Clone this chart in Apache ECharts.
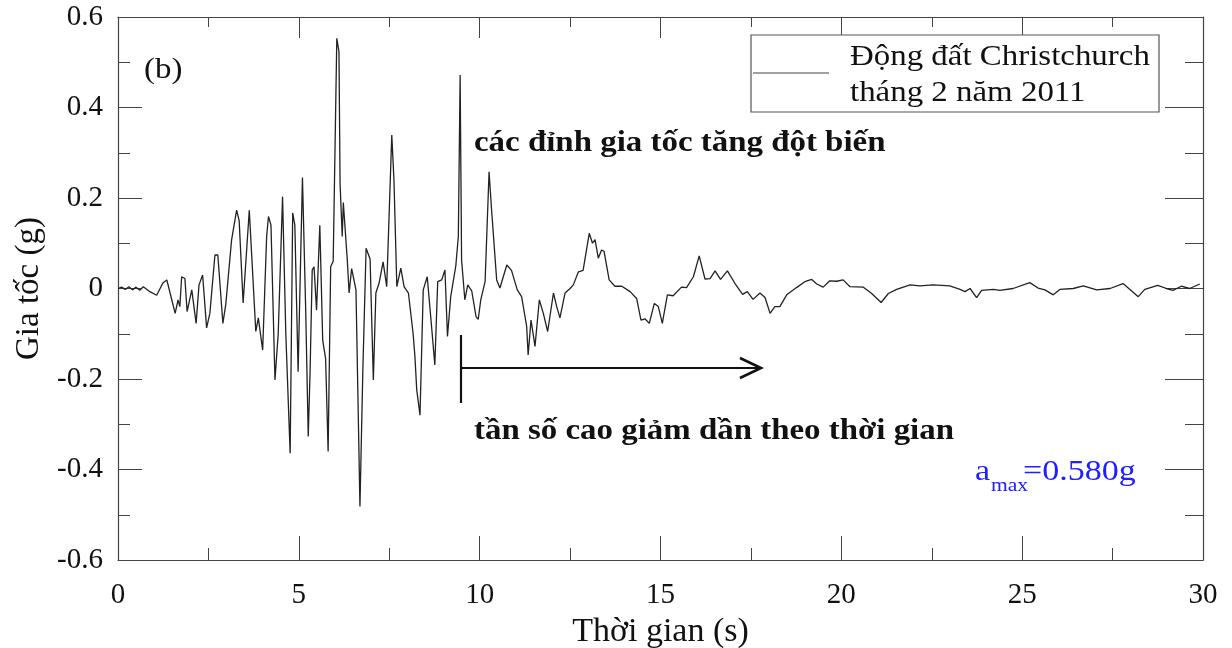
<!DOCTYPE html>
<html>
<head>
<meta charset="utf-8">
<script src="https://cdn.jsdelivr.net/npm/echarts@6/dist/echarts.min.js"></script>
<style>
  html, body { margin: 0; padding: 0; background: #fff; }
  #main { width: 1232px; height: 648px; }
</style>
</head>
<body>
<div id="main"></div>
<script>
// thời gian (s)
var timeS = [
  0, 0.1, 0.2, 0.3, 0.4, 0.5, 0.6, 0.7, 0.75, 0.88, 1.07, 1.24, 1.35, 1.44, 1.58, 1.66, 1.71, 1.76, 1.85, 1.91,
  2.04, 2.16, 2.24, 2.34, 2.45, 2.54, 2.68, 2.76, 2.90, 2.98, 3.04, 3.14, 3.28, 3.35, 3.46, 3.63, 3.81, 3.88,
  4.00, 4.11, 4.16, 4.23, 4.34, 4.43, 4.55, 4.64, 4.76, 4.83, 4.89, 4.98, 5.10, 5.19, 5.26, 5.31, 5.37, 5.42,
  5.49, 5.58, 5.66, 5.74, 5.81, 5.88, 5.95, 6.05, 6.11, 6.14, 6.20, 6.23, 6.34, 6.39, 6.46, 6.58, 6.69, 6.77,
  6.86, 6.97, 7.06, 7.13, 7.22, 7.33, 7.43, 7.57, 7.63, 7.71, 7.82, 7.91, 8.03, 8.16, 8.21, 8.26, 8.35, 8.44,
  8.55, 8.67, 8.76, 8.84, 8.95, 9.04, 9.11, 9.20, 9.34, 9.41, 9.46, 9.50, 9.59, 9.67, 9.78, 9.90, 9.96, 10.03,
  10.15, 10.26, 10.33, 10.47, 10.56, 10.75, 10.88, 11.04, 11.16, 11.30, 11.34, 11.42, 11.53, 11.65, 11.76, 11.88,
  12.04, 12.13, 12.22, 12.36, 12.50, 12.59, 12.73, 12.86, 13.03, 13.12, 13.19, 13.28, 13.37, 13.44, 13.58, 13.74,
  13.93, 14.16, 14.34, 14.46, 14.57, 14.69, 14.83, 14.94, 15.05, 15.19, 15.35, 15.58, 15.72, 15.91, 16.07, 16.23,
  16.37, 16.51, 16.66, 16.85, 17.06, 17.27, 17.40, 17.56, 17.75, 17.89, 18.03, 18.16, 18.30, 18.49, 18.76, 18.99,
  19.18, 19.32, 19.50, 19.68, 19.87, 20.05, 20.24, 20.61, 20.84, 21.10, 21.30, 21.53, 21.90, 22.17, 22.54, 23.00,
  23.28, 23.42, 23.56, 23.74, 23.88, 24.20, 24.38, 24.75, 25.21, 25.44, 25.63, 25.86, 26.04, 26.41, 26.69, 27.06,
  27.43, 27.79, 27.98, 28.21, 28.39, 28.75, 28.99, 29.17, 29.40, 29.63, 29.91
];
// gia tốc (g)
var accelG = [
  0, 0.003, -0.002, 0.004, -0.003, 0.003, -0.004, 0.004, 0.008, -0.007, -0.015, 0.012, 0.019, -0.010, -0.055, -0.025, -0.040, 0.026, 0.022, -0.051,
  -0.003, -0.077, 0.008, 0.030, -0.087, -0.055, 0.074, 0.074, -0.077, -0.035, 0.018, 0.107, 0.173, 0.150, -0.032, 0.173, -0.095, -0.065,
  -0.136, 0.115, 0.159, 0.140, -0.202, -0.100, 0.203, -0.100, -0.364, 0.167, 0.140, -0.184, 0.245, -0.048, -0.327, -0.187, 0.041, 0.048,
  -0.048, 0.140, -0.114, -0.155, -0.360, 0.048, 0.060, 0.553, 0.523, 0.232, 0.115, 0.190, 0.063, -0.010, 0.044, -0.003, -0.482, -0.180,
  0.089, 0.065, -0.202, -0.010, 0.012, 0.059, 0.004, 0.339, 0.240, 0.004, 0.045, 0.004, -0.010, -0.100, -0.150, -0.224, -0.280, -0.003,
  0.026, -0.084, -0.169, 0.015, 0.019, 0.041, -0.106, -0.018, 0.050, 0.115, 0.472, 0.063, -0.025, 0.008, -0.005, -0.062, -0.068, -0.025,
  0.015, 0.258, 0.173, 0.019, 0.001, 0.052, 0.040, -0.003, -0.018, -0.084, -0.147, -0.070, -0.128, -0.025, -0.055, -0.095,
  -0.010, -0.040, -0.065, -0.010, 0, 0.008, 0.037, 0.040, 0.122, 0.100, 0.108, 0.067, 0.085, 0.082, 0.019, 0.005,
  0.005, -0.007, -0.022, -0.070, -0.067, -0.077, -0.033, -0.040, -0.077, -0.014, -0.016, 0.003, 0.002, 0.026, 0.072, 0.021,
  0.022, 0.039, 0.020, 0.039, 0.011, -0.013, -0.007, -0.024, -0.010, -0.020, -0.055, -0.040, -0.040, -0.014, 0.002, 0.015,
  0.020, 0.010, 0.003, 0.017, 0.016, 0.019, 0.004, 0.003, -0.011, -0.031, -0.011, -0.002, 0.008, 0.006, 0.008, 0.006,
  -0.002, -0.007, 0, -0.020, -0.004, -0.002, -0.004, 0, 0.013, 0.001, -0.003, -0.014, -0.002, 0, 0.006, -0.003,
  0, 0.011, -0.002, -0.018, -0.002, 0.007, 0, -0.004, 0.005, 0, 0.010
];
var xRange = [0, 30];
var yRange = [-0.6, 0.6];

var FONT = '"Liberation Serif", "Times New Roman", serif';
var SX = 1.135; // chữ trong ảnh gốc hơi bị kéo ngang
var chart = echarts.init(document.getElementById('main'));

var points = timeS.map(function (t, i) { return [t, accelG[i]]; });

var frameLine = { show: true, onZero: false, lineStyle: { color: '#444', width: 1.2 } };
var tickStyle = { color: '#444', width: 1 };

function label(text, x, y, font, color) {
  return {
    type: 'text', x: x, y: y, scaleX: SX, z: 11,
    style: { text: text, font: font, fill: color || '#111', verticalAlign: 'top', lineHeight: 36 }
  };
}

var option = {
  backgroundColor: '#fff',
  animation: false,
  grid: { left: 118, right: 29, top: 17, bottom: 88, outerBoundsMode: 'none', containLabel: false },
  xAxis: [{
    type: 'value', min: xRange[0], max: xRange[1], interval: 5,
    name: 'Thời gian (s)', nameLocation: 'middle', nameGap: 51,
    nameTextStyle: { fontFamily: FONT, fontSize: 34, color: '#111' },
    axisLine: frameLine,
    axisTick: { inside: true, length: 24, lineStyle: tickStyle },
    minorTick: { show: true, splitNumber: 2, length: 12, lineStyle: tickStyle },
    splitLine: { show: false },
    axisLabel: { fontFamily: FONT, fontSize: 29, color: '#111', margin: 21 }
  }, {
    type: 'value', position: 'top', min: xRange[0], max: xRange[1], interval: 5,
    axisLine: frameLine,
    axisTick: { inside: true, length: 21, lineStyle: tickStyle },
    minorTick: { show: true, splitNumber: 2, length: 10, lineStyle: tickStyle },
    splitLine: { show: false },
    axisLabel: { show: false }
  }],
  yAxis: [{
    type: 'value', min: yRange[0], max: yRange[1], interval: 0.2,
    name: 'Gia tốc (g)', nameLocation: 'middle', nameGap: 70, nameRotate: 90,
    nameTextStyle: { fontFamily: FONT, fontSize: 33, color: '#111' },
    axisLine: frameLine,
    axisTick: { inside: true, length: 24, lineStyle: tickStyle },
    minorTick: { show: true, splitNumber: 2, length: 12, lineStyle: tickStyle },
    splitLine: { show: false },
    axisLabel: {
      fontFamily: FONT, fontSize: 29, color: '#111', margin: 15,
      formatter: function (v) { return String(Number(v.toFixed(1))); }
    }
  }, {
    type: 'value', position: 'right', min: yRange[0], max: yRange[1], interval: 0.2,
    axisLine: frameLine,
    axisTick: { inside: true, length: 38, lineStyle: tickStyle },
    minorTick: { show: true, splitNumber: 2, length: 18, lineStyle: tickStyle },
    splitLine: { show: false },
    axisLabel: { show: false }
  }],
  series: [{
    name: 'Động đất Christchurch tháng 2 năm 2011',
    type: 'line',
    xAxisIndex: 0,
    yAxisIndex: 0,
    data: points,
    showSymbol: false,
    lineStyle: { color: '#222', width: 1.3 },
    z: 3
  }],
  graphic: [
    // khung chú thích
    { type: 'rect', shape: { x: 751, y: 35, width: 408, height: 77 },
      style: { fill: '#fff', stroke: '#555', lineWidth: 1.2 }, z: 10 },
    { type: 'line', shape: { x1: 753, y1: 73, x2: 829, y2: 73 },
      style: { stroke: '#444', lineWidth: 1.2 }, z: 11 },
    label('Động đất Christchurch\ntháng 2 năm 2011', 850, 39, '29px ' + FONT),
    label('(b)', 144, 52, '29px ' + FONT),
    // chú giải
    label('các đỉnh gia tốc tăng đột biến', 474, 126, 'bold 29px ' + FONT),
    label('tần số cao giảm dần theo thời gian', 474, 414, 'bold 29px ' + FONT),
    { type: 'line', shape: { x1: 461, y1: 335, x2: 461, y2: 403 },
      style: { stroke: '#111', lineWidth: 2.2 }, z: 11 },
    { type: 'line', shape: { x1: 462, y1: 368, x2: 760, y2: 368 },
      style: { stroke: '#111', lineWidth: 2.2 }, z: 11 },
    { type: 'polyline', shape: { points: [[740, 358], [761, 368], [740, 378]] },
      style: { stroke: '#111', lineWidth: 2.6, fill: null }, z: 11 },
    // a_max
    label('a', 975, 454, '30px ' + FONT, '#2020ff'),
    label('max', 991, 468, '19px ' + FONT, '#2020ff'),
    label('=0.580g', 1023, 454, '30px ' + FONT, '#2020ff')
  ]
};

chart.setOption(option);
</script>
</body>
</html>
